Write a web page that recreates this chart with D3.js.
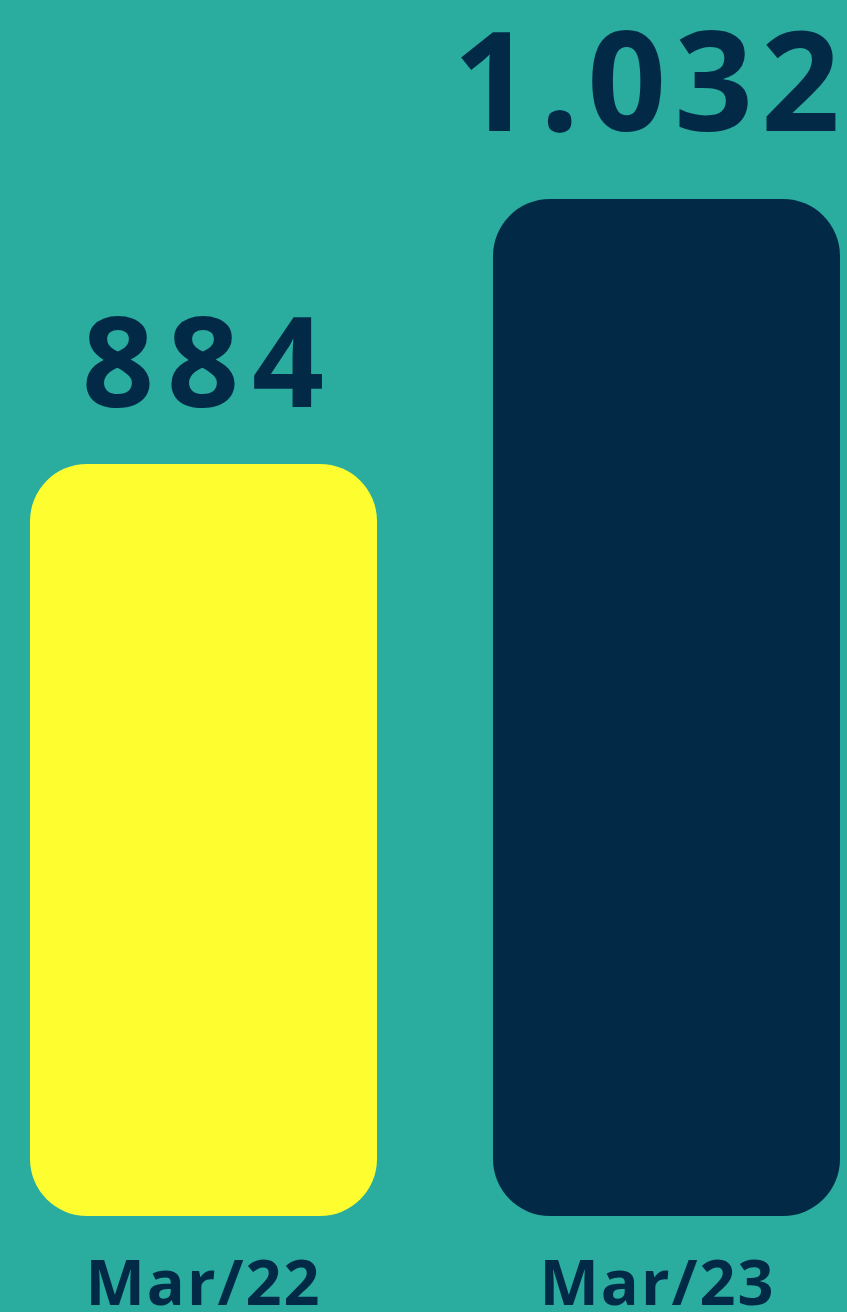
<!DOCTYPE html>
<html>
<head>
<meta charset="utf-8">
<script src="https://cdn.jsdelivr.net/npm/d3@7"></script>
<style>
  html, body { margin: 0; padding: 0; background: #2aac9f; }
  svg { display: block; }
  text { font-family: "Open Sans", sans-serif; font-weight: 700; fill: #022a47; }
</style>
</head>
<body>
<svg id="chart" width="847" height="1312"></svg>
<script>
// data
var categories = ["Mar/22", "Mar/23"];
var values = [884, 1032];
var valueLabels = ["884", "1.032"];
var barColors = ["#fdfd30", "#022a47"];

var W = 847, H = 1312;
var svg = d3.select("#chart");

// band scale: bars at 30..378 and 493..840
var x = d3.scaleBand()
  .domain(categories)
  .range([30, 840])
  .paddingInner(0.2505)
  .paddingOuter(0);

// the bars don't start at zero in the original, baseline sits at ~464
var y = d3.scaleLinear()
  .domain([464, 1032])
  .range([1216, 199]);

var g = svg.append("g").attr("class", "bars");

g.selectAll("rect.bar")
  .data(categories)
  .enter().append("rect")
    .attr("class", "bar")
    .attr("x", function(d) { return x(d); })
    .attr("y", function(d, i) { return y(values[i]); })
    .attr("width", x.bandwidth())
    .attr("height", function(d, i) { return y.range()[0] - y(values[i]); })
    .attr("rx", 57)
    .attr("ry", 57)
    .attr("fill", function(d, i) { return barColors[i]; });

// value labels, the bigger one gets a bigger font
var sizeScale = d3.scaleLinear().domain([884, 1032]).range([126, 138]);

g.selectAll("text.value")
  .data(categories)
  .enter().append("text")
    .attr("class", "value")
    .attr("x", function(d) { return x(d) + x.bandwidth() / 2 + 6; })
    .attr("y", function(d, i) { return y(values[i]) - (i == 0 ? 57 : 68); })
    .attr("text-anchor", "middle")
    .attr("font-size", function(d, i) { return sizeScale(values[i]); })
    .attr("letter-spacing", function(d, i) { return i == 0 ? 13 : 8; })
    .text(function(d, i) { return valueLabels[i]; })
    .each(function() {
      // keep it inside the canvas
      var bb = this.getBBox();
      if (bb.x + bb.width > W + 1) {
        d3.select(this).attr("x", +d3.select(this).attr("x") - (bb.x + bb.width - (W + 1)));
      }
    });

// category labels under the bars
g.selectAll("text.cat")
  .data(categories)
  .enter().append("text")
    .attr("class", "cat")
    .attr("x", function(d, i) { return x(d) + x.bandwidth() / 2 + (i == 0 ? 0 : -9); })
    .attr("y", 1305)
    .attr("text-anchor", "middle")
    .attr("font-size", 63)
    .attr("letter-spacing", 2)
    .text(function(d) { return d; });
</script>
</body>
</html>
